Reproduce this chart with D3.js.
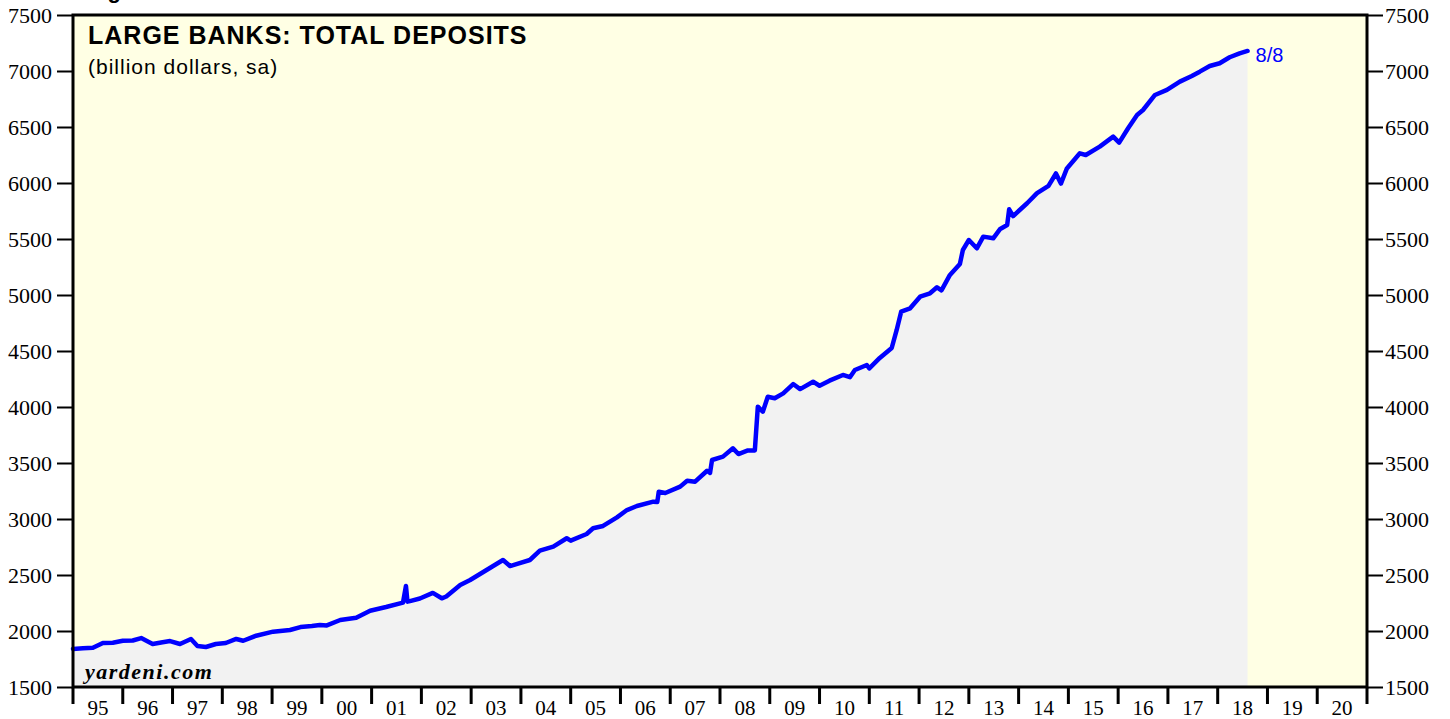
<!DOCTYPE html>
<html>
<head>
<meta charset="utf-8">
<script src="https://cdn.jsdelivr.net/npm/d3@7"></script>
<style>
  html, body { margin: 0; padding: 0; background: #ffffff; }
  svg { display: block; }
</style>
</head>
<body>
<div id="chart"></div>
<script>
// weekly series (decimal year, billion dollars)
const dates = [
  1995.00, 1995.20, 1995.40, 1995.60, 1995.80, 1996.00, 1996.20, 1996.37, 1996.60, 1996.80,
  1996.95, 1997.15, 1997.37, 1997.50, 1997.67, 1997.87, 1998.07, 1998.28, 1998.42, 1998.68,
  1999.02, 1999.36, 1999.57, 1999.80, 1999.96, 2000.10, 2000.37, 2000.69, 2000.97, 2001.29,
  2001.63, 2001.69, 2001.72, 2001.77, 2001.97, 2002.23, 2002.41, 2002.50, 2002.78, 2002.98,
  2003.31, 2003.64, 2003.78, 2003.91, 2004.18, 2004.38, 2004.65, 2004.92, 2005.00, 2005.32,
  2005.45, 2005.65, 2005.93, 2006.13, 2006.33, 2006.66, 2006.74, 2006.77, 2006.90, 2007.20,
  2007.34, 2007.50, 2007.74, 2007.80, 2007.84, 2008.06, 2008.26, 2008.37, 2008.56, 2008.70,
  2008.76, 2008.86, 2008.96, 2009.10, 2009.27, 2009.47, 2009.61, 2009.87, 2010.00, 2010.20,
  2010.47, 2010.61, 2010.71, 2010.95, 2011.00, 2011.21, 2011.45, 2011.55, 2011.64, 2011.82,
  2012.02, 2012.22, 2012.36, 2012.45, 2012.62, 2012.82, 2012.88, 2013.00, 2013.16, 2013.29,
  2013.49, 2013.63, 2013.77, 2013.81, 2013.89, 2014.17, 2014.37, 2014.60, 2014.75, 2014.85,
  2014.97, 2015.23, 2015.35, 2015.63, 2015.90, 2016.02, 2016.20, 2016.38, 2016.50, 2016.74,
  2016.98, 2017.24, 2017.48, 2017.64, 2017.84, 2018.04, 2018.24, 2018.44, 2018.60
]
const deposits = [
  1840, 1845, 1850, 1893, 1895, 1913, 1915, 1937, 1884, 1900,
  1910, 1884, 1929, 1866, 1857, 1884, 1893, 1929, 1913, 1958,
  1994, 2009, 2035, 2045, 2054, 2050, 2098, 2119, 2181, 2214,
  2253, 2402, 2262, 2267, 2290, 2340, 2292, 2308, 2410, 2455,
  2545, 2634, 2580, 2598, 2634, 2717, 2753, 2828, 2807, 2866,
  2917, 2938, 3015, 3080, 3116, 3155, 3152, 3244, 3232, 3289,
  3342, 3333, 3431, 3412, 3527, 3557, 3631, 3580, 3612, 3612,
  4003, 3958, 4092, 4078, 4122, 4205, 4160, 4226, 4190, 4235,
  4286, 4266, 4330, 4375, 4345, 4438, 4527, 4688, 4851, 4881,
  4985, 5015, 5069, 5042, 5179, 5277, 5402, 5491, 5417, 5521,
  5506, 5590, 5625, 5765, 5705, 5819, 5910, 5975, 6085, 5995,
  6130, 6265, 6250, 6325, 6414, 6360, 6489, 6608, 6652, 6786,
  6831, 6905, 6956, 6994, 7045, 7069, 7123, 7158, 7179
]
const yTicks = [1500, 2000, 2500, 3000, 3500, 4000, 4500, 5000, 5500, 6000, 6500, 7000, 7500]
const yearTicks = d3.range(1995, 2022)
const yearLabels = d3.range(1995, 2021)
const lastLabel = "8/8"

const width = 1450, height = 719
const margin = { top: 15, right: 83, bottom: 32, left: 73 }
const innerW = width - margin.left - margin.right
const innerH = height - margin.top - margin.bottom

const data = dates.map((d, i) => ({ t: d, v: deposits[i] }))

const x = d3.scaleLinear().domain([1995, 2021]).range([0, innerW])
const y = d3.scaleLinear().domain([1500, 7500]).range([innerH, 0])

const svg = d3.select("#chart").append("svg")
  .attr("width", width)
  .attr("height", height)

// heading above the frame, cut off by the top edge like in the source
svg.append("text")
  .attr("x", 88)
  .attr("y", -2)
  .style("font-family", "'Liberation Sans', Arial, sans-serif")
  .style("font-weight", "bold")
  .style("font-size", "22px")
  .text("Figure")

const g = svg.append("g").attr("transform", `translate(${margin.left},${margin.top})`)

g.append("rect")
  .attr("width", innerW)
  .attr("height", innerH)
  .attr("fill", "#ffffe4")

const area = d3.area()
  .x(d => x(d.t))
  .y0(innerH)
  .y1(d => y(d.v))

g.append("path")
  .datum(data)
  .attr("d", area)
  .attr("fill", "#f2f2f2")

const line = d3.line()
  .x(d => x(d.t))
  .y(d => y(d.v))

g.append("path")
  .datum(data)
  .attr("d", line)
  .attr("fill", "none")
  .attr("stroke", "#0000ff")
  .attr("stroke-width", 4.5)
  .attr("stroke-linejoin", "round")
  .attr("stroke-linecap", "round")

// frame
g.append("rect")
  .attr("width", innerW)
  .attr("height", innerH)
  .attr("fill", "none")
  .attr("stroke", "#000")
  .attr("stroke-width", 3)

const serif = "'Liberation Serif', 'Times New Roman', serif"

// y axes, both sides
const yLeft = g.append("g")
  .call(d3.axisLeft(y).tickValues(yTicks).tickSize(16).tickPadding(5).tickFormat(d3.format("d")))
const yRight = g.append("g")
  .attr("transform", `translate(${innerW},0)`)
  .call(d3.axisRight(y).tickValues(yTicks).tickSize(16).tickPadding(2).tickFormat(d3.format("d")))

for (const ax of [yLeft, yRight]) {
  ax.select(".domain").remove()
  ax.selectAll("line").attr("stroke", "#000").attr("stroke-width", 2)
  ax.selectAll("text")
    .style("font-family", serif)
    .style("font-size", "22px")
    .attr("fill", "#000")
}

// x axis: ticks at year boundaries, labels in the middle of each year
const xAxis = g.append("g").attr("transform", `translate(0,${innerH})`)
xAxis.selectAll("line")
  .data(yearTicks)
  .enter().append("line")
  .attr("x1", d => x(d))
  .attr("x2", d => x(d))
  .attr("y1", 0)
  .attr("y2", 17)
  .attr("stroke", "#000")
  .attr("stroke-width", 3)

xAxis.selectAll("text")
  .data(yearLabels)
  .enter().append("text")
  .attr("x", d => x(d + 0.5))
  .attr("y", 28)
  .attr("text-anchor", "middle")
  .style("font-family", serif)
  .style("font-size", "21px")
  .text(d => String(d % 100).padStart(2, "0"))

// titles
g.append("text")
  .attr("x", 15)
  .attr("y", 29)
  .style("font-family", "'Liberation Sans', Arial, sans-serif")
  .style("font-weight", "bold")
  .style("font-size", "25px")
  .style("letter-spacing", "1px")
  .text("LARGE BANKS: TOTAL DEPOSITS")

g.append("text")
  .attr("x", 15)
  .attr("y", 59)
  .style("font-family", "'Liberation Sans', Arial, sans-serif")
  .style("font-size", "21px")
  .style("letter-spacing", "1px")
  .text("(billion dollars, sa)")

g.append("text")
  .attr("x", 12)
  .attr("y", innerH - 8)
  .style("font-family", serif)
  .style("font-weight", "bold")
  .style("font-style", "italic")
  .style("font-size", "22px")
  .style("letter-spacing", "1.5px")
  .text("yardeni.com")

const last = data[data.length - 1]
g.append("text")
  .attr("x", x(last.t) + 8)
  .attr("y", y(last.v) + 11)
  .attr("fill", "#0000ff")
  .style("font-family", "'Liberation Sans', Arial, sans-serif")
  .style("font-size", "20px")
  .text(lastLabel)
</script>
</body>
</html>
